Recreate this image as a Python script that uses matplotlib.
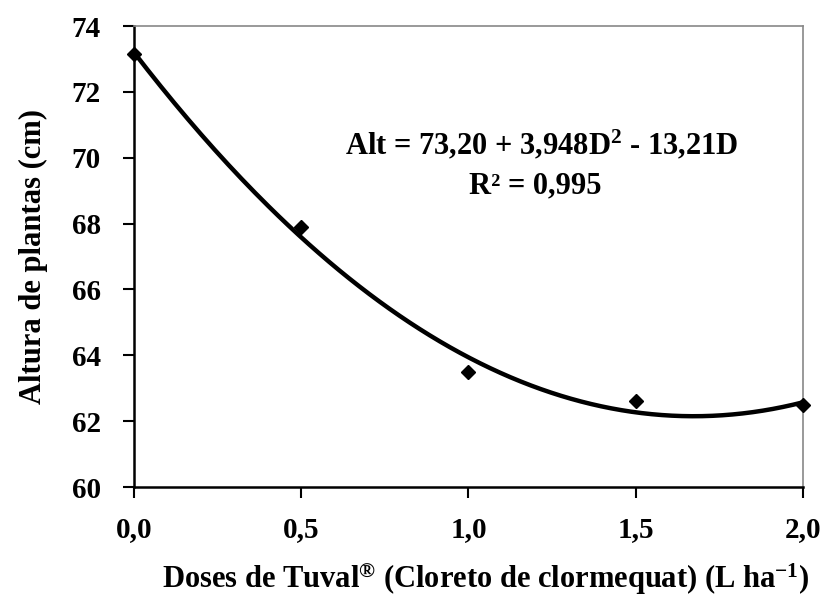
import numpy as np
import matplotlib
matplotlib.use('Agg')
import matplotlib.pyplot as plt

doses = [0.0, 0.5, 1.0, 1.5, 2.0]
altura = [73.15, 67.9, 63.5, 62.6, 62.5]
xticks = [0.0, 0.5, 1.0, 1.5, 2.0]
yticks = [60, 62, 64, 66, 68, 70, 72, 74]
coef = [3.948, -13.21, 73.20]  # Alt = 73,20 + 3,948D^2 - 13,21D

plt.rcParams['font.family'] = ['Liberation Serif', 'DejaVu Serif']
plt.rcParams['font.weight'] = 'bold'
plt.rcParams['mathtext.fontset'] = 'custom'
plt.rcParams['mathtext.rm'] = 'Liberation Serif:bold'
plt.rcParams['mathtext.it'] = 'Liberation Serif:bold'
plt.rcParams['mathtext.bf'] = 'Liberation Serif:bold'
plt.rcParams['mathtext.default'] = 'rm'

fig = plt.figure(figsize=(8.25, 5.98), dpi=100)
ax = fig.add_axes([0.1624, 0.1856, 0.8109, 0.7709])

xs = np.linspace(0, 2, 200)
ax.plot(xs, np.polyval(coef, xs), color='black', lw=3.2, zorder=2)
ax.plot(doses, altura, 'D', color='black', ms=7.5, clip_on=False, zorder=3)

ax.set_xlim(0, 2)
ax.set_ylim(60, 74)
ax.set_xticks(xticks)
ax.set_xticklabels([('%.1f' % t).replace('.', ',') for t in xticks])
ax.set_yticks(yticks)
ax.tick_params(direction='out', length=8, width=1.5, labelsize=21)
ax.tick_params(axis='x', pad=13)
ax.tick_params(axis='y', pad=16)
for lab in ax.get_xticklabels() + ax.get_yticklabels():
    lab.set_fontweight('bold')

ax.spines['left'].set_linewidth(1.8)
ax.spines['bottom'].set_linewidth(1.8)
ax.spines['top'].set_color('#888888')
ax.spines['right'].set_color('#888888')
ax.spines['top'].set_linewidth(1.2)
ax.spines['right'].set_linewidth(1.2)

ax.set_ylabel('Altura de plantas (cm)', fontsize=22, fontweight='bold')
ax.yaxis.set_label_coords(-0.128, 0.5)
ax.set_xlabel('Doses de Tuval$^{\\circledR}$ (Cloreto de clormequat) (L ha$^{-1}$)',
              fontsize=22, fontweight='bold')
ax.xaxis.set_label_coords(0.525, -0.158)

ax.text(1.22, 70.4, 'Alt = 73,20 + 3,948D$^{2}$ - 13,21D', fontsize=22,
        fontweight='bold', ha='center', va='center')
ax.text(1.20, 69.15, 'R² = 0,995', fontsize=22, fontweight='bold',
        ha='center', va='center')

fig.savefig('out.png', dpi=100)
